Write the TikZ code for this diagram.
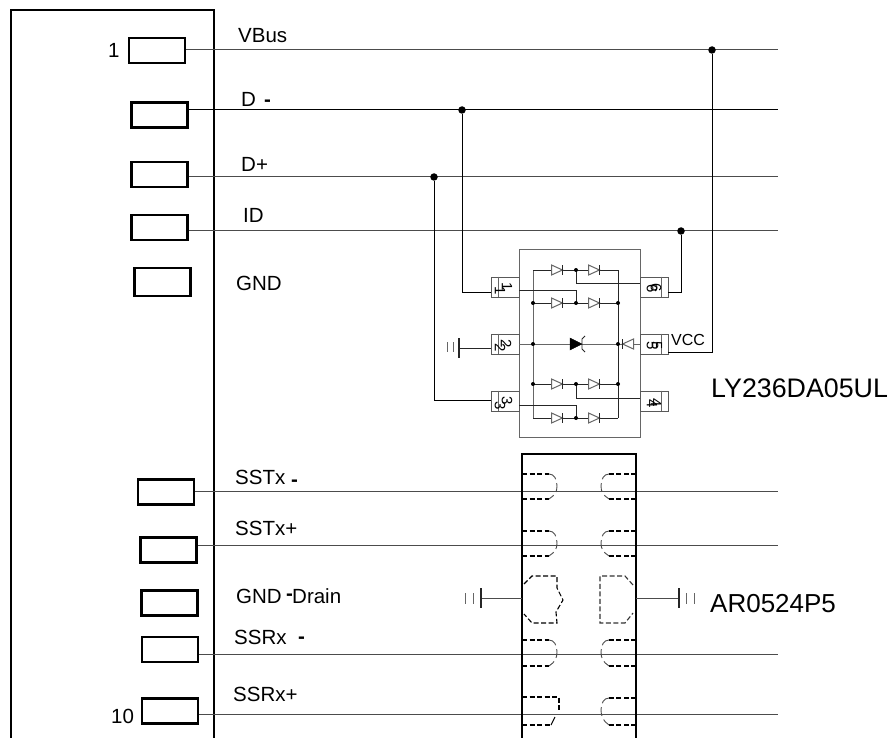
\documentclass[tikz,border=0pt]{standalone}
\usepackage{fontspec}
\setmainfont{Liberation Sans}
\tikzset{
  x=1pt,y=-1pt,
  wire/.style={line width=1pt,draw=black!70},
  bwire/.style={line width=1pt,draw=black},
  housing/.style={line width=2.4pt,draw=black},
  pad/.style={line width=2.2pt,draw=black,fill=white,rectangle,inner sep=0pt,minimum width=56pt,minimum height=25pt},
  lbl/.style={inner sep=0pt,anchor=base west,font=\fontsize{20.5}{22}\selectfont},
  biglbl/.style={inner sep=0pt,anchor=base west,font=\fontsize{26}{28}\selectfont},
  dotn/.style={circle,fill=black,inner sep=0pt,minimum size=7.5pt},
  sdot/.style={circle,fill=black,inner sep=0pt,minimum size=4pt},
  pin/.style={rectangle,draw=black!65,line width=0.9pt,inner sep=0pt,minimum width=28pt,minimum height=20pt},
  pintext/.style={rotate=-90,inner sep=0pt,font=\fontsize{15}{15}\selectfont},
  gray line/.style={line width=1pt,draw=black!60},
  ink/.style={line width=0.9pt,draw=black!85},
  dsh/.style={line width=1.1pt,draw=black,dash pattern=on 5pt off 2.5pt},
  dshg/.style={line width=0.9pt,draw=black!70,dash pattern=on 9pt off 4pt},
}
\newcommand{\diodeR}[2]{%
  \draw[gray line,fill=white] (#1-5.5,#2-5) -- (#1+5.5,#2) -- (#1-5.5,#2+5) -- cycle;
  \draw[ink] (#1+5.5,#2-5) -- (#1+5.5,#2+5);}
\newcommand{\diodeL}[2]{%
  \draw[gray line,fill=white] (#1+5.5,#2-5) -- (#1-5.5,#2) -- (#1+5.5,#2+5) -- cycle;
  \draw[ink] (#1-5.5,#2-5) -- (#1-5.5,#2+5);}
\newcommand{\lug}[3]{% left lug: x, y top, y bottom
  \draw[dsh] (#1,#2) -- (#1+27,#2);
  \draw[dsh] (#1,#3) -- (#1+27,#3);
  \draw[dshg] (#1+27,#2) .. controls (#1+32,#2) and (#1+35,#2+5) .. (#1+35,#2+12) .. controls (#1+35,#2+18) and (#1+33,#3-4) .. (#1+27,#3);}
\newcommand{\rug}[3]{% right lug: x, y top, y bottom
  \draw[dsh] (#1,#2) -- (#1-27,#2);
  \draw[dsh] (#1,#3) -- (#1-27,#3);
  \draw[dshg] (#1-27,#2) .. controls (#1-32,#2) and (#1-35,#2+5) .. (#1-35,#2+12) .. controls (#1-35,#2+18) and (#1-33,#3-4) .. (#1-27,#3);}
\begin{document}
\begin{tikzpicture}
\useasboundingbox (0,0) rectangle (889,738);
% connector housing
\draw[housing] (11,738) -- (11,10) -- (214,10) -- (214,738);
% wire ends
\coordinate (e1) at (778,50); \coordinate (e2) at (778,110); \coordinate (e3) at (778,177);
\coordinate (e4) at (778,231); \coordinate (e5) at (778,491); \coordinate (e6) at (778,545);
\coordinate (e7) at (778,654); \coordinate (e8) at (778,714);
% pads
\node[pad] (p1) at (157,50.5) {};
\node[pad] (p2) at (159.5,115) {};
\node[pad] (p3) at (159.5,174.5) {};
\node[pad] (p4) at (159.5,227.5) {};
\node[pad,minimum height=28pt] (p5) at (162.5,282) {};
\node[pad] (p6) at (166,492) {};
\node[pad] (p7) at (168.5,550) {};
\node[pad] (p8) at (169.5,603) {};
\node[pad] (p9) at (170,649.5) {};
\node[pad] (p10) at (170,711) {};
\draw[wire] (p1.east |- e1) -- (e1);
\draw[bwire] (p2.east |- e2) -- (e2);
\draw[wire] (p3.east |- e3) -- (e3);
\draw[wire] (p4.east |- e4) -- (e4);
\draw[wire] (p6.east |- e5) -- (e5);
\draw[wire] (p7.east |- e6) -- (e6);
\draw[wire] (p9.east |- e7) -- (e7);
\draw[wire] (p10.east |- e8) -- (e8);
% labels
\node[lbl] at (108,58) {1};
\node[lbl] at (111,723) {10};
\node[lbl] at (238,43) {VBus};
\node[lbl] at (241,107) {D};
\node[lbl] at (264,107) {\textbf{-}};
\node[lbl] at (241,172) {D+};
\node[lbl] at (243,223) {ID};
\node[lbl] at (236,290) {GND};
\node[lbl] at (235,484) {SSTx};
\node[lbl] at (291,486) {\textbf{-}};
\node[lbl] at (235,535) {SSTx+};
\node[lbl] at (236,603) {GND};
\node[lbl] at (286,600) {\textbf{-}};
\node[lbl] at (292,603) {Drain};
\node[lbl] at (234,644) {SSRx};
\node[lbl] at (298,643) {\textbf{-}};
\node[lbl] at (233,701) {SSRx+};
% LY chip
\draw[gray line] (519,250) rectangle (640,437);
\node[pin] (u1) at (505,287) {};
\node[pin] (u2) at (505,344) {};
\node[pin] (u3) at (505,401) {};
\node[pin] (u6) at (654,287) {};
\node[pin] (u5) at (654,344) {};
\node[pin] (u4) at (654,401) {};
\foreach \n in {u1,u2,u3}{\draw[gray line] ([xshift=-7pt]\n.north) -- ([xshift=-7pt]\n.south);}
\foreach \n in {u6,u5,u4}{\draw[gray line] ([xshift=7pt]\n.north) -- ([xshift=7pt]\n.south);}
\node[pintext] at (507,287) {1};
\node[pintext] at (500,291) {1};
\node[pintext] at (506,344) {2};
\node[pintext] at (500,348) {2};
\node[pintext] at (507,401) {3};
\node[pintext] at (500,406) {3};
\node[pintext] at (656,288) {6};
\node[pintext] at (652,289) {6};
\node[pintext] at (657,346) {5};
\node[pintext] at (652,346) {5};
\node[pintext] at (656,403) {4};
\node[pintext] at (652,404) {4};
% internal rails
\draw[gray line] (533,270) -- (533,418);
\draw[ink] (618,270) -- (618,418);
\foreach \yy in {270,303,384,418}{\draw[ink] (533,\yy) -- (618,\yy);}
\draw[gray line] (u2.east) -- (u5.west);
% taps
\coordinate (t1) at (519,290); \coordinate (t2) at (640,283);
\coordinate (t3) at (519,405); \coordinate (t4) at (640,398);
\draw[ink] (576,270) |- (t2);
\draw[ink] (t1) -| (576,303);
\draw[ink] (576,384) |- (t4);
\draw[ink] (t3) -| (576,418);
\foreach \yy in {270,303,384,418}{
  \diodeR{557}{\yy}\diodeR{594}{\yy}
  \node[sdot] at (576,\yy) {};}
\foreach \xx in {533,618}{\foreach \yy in {303,384}{\node[sdot] at (\xx,\yy) {};}}
\node[sdot] at (533,344) {};
\node[sdot] at (618,344) {};
% tvs
\draw[draw=black,fill=black] (570,338) -- (582,344) -- (570,350) -- cycle;
\draw[ink] (585,336) -- (582,339) -- (582,349) -- (585,352);
\diodeL{628}{344}
% outside wiring
\node[dotn] (j1) at (712,50) {};
\node[dotn] (j2) at (462,110) {};
\node[dotn] (j3) at (434,177) {};
\node[dotn] (j4) at (681,231) {};
\coordinate (k1) at (491,292); \coordinate (k3) at (491,400);
\coordinate (k6) at (668,292); \coordinate (k5) at (668,352);
\draw[bwire] (j2) |- (k1);
\draw[bwire] (j3) |- (k3);
\draw[bwire] (j4) |- (k6);
\draw[bwire] (j1) |- (k5);
\node[inner sep=0pt,anchor=base west,font=\fontsize{16}{17}\selectfont] at (671,345) {VCC};
\coordinate (g1) at (459,348); \coordinate (g1e) at (491,348);
\draw[ink] (g1) -- (g1e);
\draw[ink,line width=1.1pt] (459,338) -- (459,358);
\draw[gray line] (453,342) -- (453,352) (447,342) -- (447,352);
\node[biglbl,font=\fontsize{26.8}{28}\selectfont] at (711,397) {LY236DA05UL};
% AR chip
\draw[line width=2pt] (522,738) -- (522,454) -- (636,454) -- (636,738);
\lug{522}{474}{499}\rug{636}{474}{499}
\lug{522}{531}{556}\rug{636}{531}{556}
\lug{522}{640}{666}\rug{636}{640}{666}
\draw[dsh] (522,697) -- (559,697) -- (559,710);
\draw[dsh,dash pattern=on 7pt off 0pt] (555,717) -- (551,725);
\draw[dsh] (522,725) -- (551,725);
\rug{636}{698}{725}
\draw[dsh] (524,584) -- (532,576) -- (557,576) -- (557,588) -- (563,600) -- (556,612) -- (557,623) -- (532,623) -- (524,614);
\draw[dsh,draw=black!80] (633,585) -- (625,576) -- (600,576) -- (600,623) -- (625,623) -- (633,613);
\coordinate (g2) at (481,598); \coordinate (g3) at (679,598);
\draw[wire] (g2) -- (522,598);
\draw[wire] (636,598) -- (g3);
\draw[ink,line width=1.1pt] (481,588) -- (481,608);
\draw[gray line] (473,593) -- (473,604) (465,593) -- (465,604);
\draw[ink,line width=1.1pt] (679,588) -- (679,608);
\draw[gray line] (686,593) -- (686,604) (694,593) -- (694,604);
\node[biglbl] at (710,612) {AR0524P5};
\end{tikzpicture}
\end{document}
